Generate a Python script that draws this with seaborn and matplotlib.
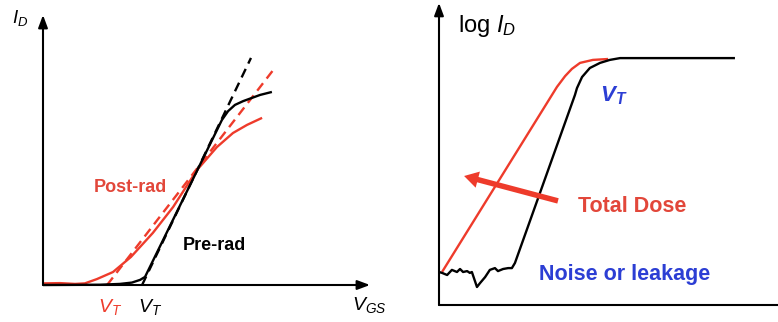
import numpy as np
import pandas as pd
import matplotlib
matplotlib.use("Agg")
import matplotlib.pyplot as plt
import seaborn as sns

# ---- Linear I_D vs V_GS (arbitrary units, 0..10 on both axes) ----
pre_vgs = [0, 1.74, 2.35, 2.72, 2.97, 3.12, 5.47, 5.66, 5.87, 6.12, 6.64, 7.00]
pre_id = [0, 0.01, 0.04, 0.09, 0.19, 0.30, 6.11, 6.44, 6.67, 6.81, 7.04, 7.15]
pre_fit_vgs = [3.03, 6.36]
pre_fit_id = [0, 8.41]

post_vgs = [0, 0.52, 0.98, 1.28, 1.65, 2.14, 2.69, 3.36, 3.98, 4.71, 5.32, 5.81, 6.24, 6.70]
post_id = [0.06, 0.07, 0.04, 0.06, 0.22, 0.48, 1.04, 1.93, 2.89, 4.26, 5.11, 5.63, 5.93, 6.19]
post_fit_vgs = [1.96, 7.09]
post_fit_id = [0, 8.04]

# ---- log I_D vs V_GS (arbitrary units) ----
pre_log_vgs = [0.00, 0.09, 0.24, 0.38, 0.53, 0.62, 0.71, 0.83, 0.91, 0.97, 1.12, 1.21,
               1.36, 1.50, 1.65, 1.74, 1.89, 2.04, 2.15, 2.24, 4.01, 4.07, 4.22, 4.45,
               4.75, 5.04, 5.34, 8.73]
pre_log_id = [1.10, 1.07, 1.00, 1.17, 1.10, 1.20, 1.10, 1.13, 1.07, 1.10, 0.60, 0.73,
              0.93, 1.17, 1.23, 1.13, 1.20, 1.23, 1.23, 1.40, 7.00, 7.23, 7.60, 7.90,
              8.07, 8.17, 8.23, 8.23]
post_log_vgs = [0.09, 3.48, 3.72, 3.92, 4.16, 4.54, 4.99]
post_log_id = [1.10, 7.27, 7.63, 7.87, 8.07, 8.17, 8.20]

dose_arrow_tail = (3.51, 3.47)
dose_arrow_tip = (0.74, 4.30)

RED = "#EE3B2B"
RED_TXT = "#E2473A"
BLUE = "#2C3ED4"
BLACK = "#000000"

sns.set_theme(style="white")
plt.rcParams["font.family"] = ["Liberation Sans", "DejaVu Sans"]
plt.rcParams["mathtext.fontset"] = "custom"
plt.rcParams["mathtext.rm"] = "Liberation Sans"
plt.rcParams["mathtext.it"] = "Liberation Sans:italic"
plt.rcParams["mathtext.bf"] = "Liberation Sans:bold"
plt.rcParams["mathtext.bfit"] = "Liberation Sans:bold:italic"

W, H = 778, 322
fig = plt.figure(figsize=(W / 100, H / 100), dpi=100)
fig.patch.set_facecolor("white")


def make_axes(x0, y0, x1, y1):
    ax = fig.add_axes([x0 / W, 1 - y0 / H, (x1 - x0) / W, (y0 - y1) / H])
    ax.set_xlim(0, 10)
    ax.set_ylim(0, 10)
    ax.set_axis_off()
    return ax


def curve(ax, x, y, color, lw=1.7, dashes=None):
    df = pd.DataFrame({"x": x, "y": y})
    sns.lineplot(data=df, x="x", y="y", ax=ax, color=color, lw=lw,
                 sort=False, estimator=None, legend=False,
                 solid_capstyle="butt", clip_on=False)
    if dashes is not None:
        ax.lines[-1].set_dashes(dashes)


def axis_arrow(ax, start, end, head=True):
    style = "-|>,head_length=0.75,head_width=0.28" if head else "-"
    ax.annotate("", xy=end, xytext=start, xycoords="data",
                arrowprops=dict(arrowstyle=style, lw=1.5, color=BLACK,
                                shrinkA=0, shrinkB=0, mutation_scale=10),
                annotation_clip=False)


# ================= linear panel =================
axL = make_axes(43, 285, 370, 15)
axis_arrow(axL, (0, 0), (0, 10))
axis_arrow(axL, (0, 0), (10, 0))

curve(axL, post_fit_vgs, post_fit_id, RED, dashes=(4, 2.5))
curve(axL, pre_fit_vgs, pre_fit_id, BLACK, dashes=(4, 2.5))
curve(axL, post_vgs, post_id, RED)
curve(axL, pre_vgs, pre_id, BLACK)

axL.text(-0.95, 9.7, r"$I_D$", fontsize=13.5, color=BLACK, ha="left", va="baseline")
axL.text(9.45, -0.93, r"$V_{GS}$", fontsize=14, color=BLACK, ha="left", va="baseline")
axL.text(1.68, -1.0, r"$V_T$", fontsize=14, color=RED, ha="left", va="baseline")
axL.text(2.91, -1.0, r"$V_T$", fontsize=14, color=BLACK, ha="left", va="baseline")
axL.text(1.56, 3.44, "Post-rad", fontsize=13, fontweight="bold", color=RED_TXT,
         ha="left", va="baseline")
axL.text(4.28, 1.30, "Pre-rad", fontsize=13, fontweight="bold", color=BLACK,
         ha="left", va="baseline")

# ================= log panel =================
axR = make_axes(439, 305, 778, 5)
axis_arrow(axR, (0, 0), (0, 10.07))
axis_arrow(axR, (0, 0), (10, 0), head=False)

curve(axR, post_log_vgs, post_log_id, RED)
curve(axR, pre_log_vgs, pre_log_id, BLACK)

axR.annotate("", xy=dose_arrow_tip, xytext=dose_arrow_tail, xycoords="data",
             arrowprops=dict(arrowstyle="simple,head_length=0.85,head_width=1.0,tail_width=0.33",
                             color=RED, lw=0, shrinkA=0, shrinkB=0, mutation_scale=12))

axR.text(0.56, 9.1, r"log $I_D$", fontsize=17, color=BLACK, ha="left", va="baseline")
axR.text(4.75, 6.8, r"$\mathbfit{V}_\mathbfit{T}$", fontsize=16, color=BLUE,
         ha="left", va="baseline")
axR.text(4.10, 3.10, "Total Dose", fontsize=15.5, fontweight="bold", color=RED_TXT,
         ha="left", va="baseline")
axR.text(2.95, 0.83, "Noise or leakage", fontsize=15.5, fontweight="bold", color=BLUE,
         ha="left", va="baseline")

fig.savefig("out.png", dpi=100, facecolor="white")
